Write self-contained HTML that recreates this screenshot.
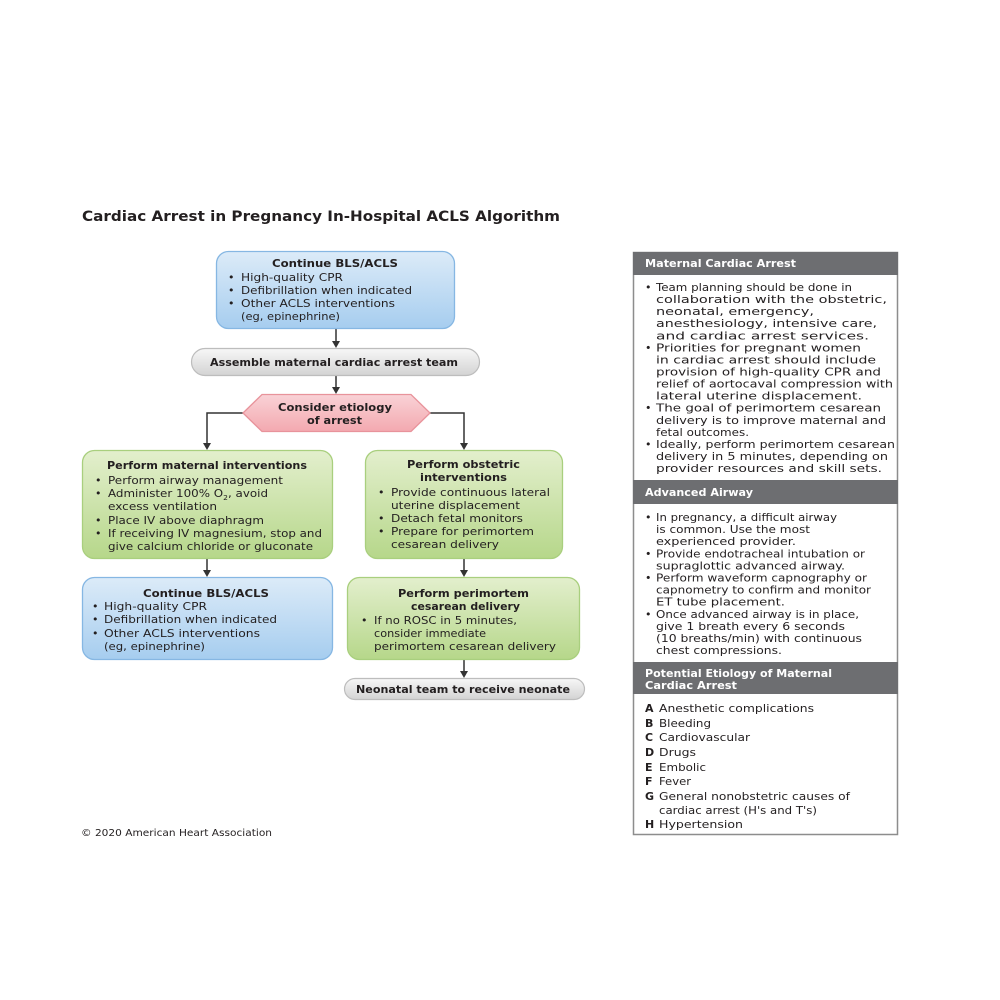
<!DOCTYPE html>
<html>
<head>
<meta charset="utf-8">
<style>
  html,body{margin:0;padding:0;background:#fff;}
  svg{display:block;}
  text{font-family:"DejaVu Sans","Liberation Sans",Arial,sans-serif;fill:#231f20;}
  .t{font-size:11px;}
  .b{font-size:11px;font-weight:bold;}
  .w{font-size:11px;font-weight:bold;fill:#fff;}
</style>
</head>
<body>
<svg width="1000" height="1000" viewBox="0 0 1000 1000" xmlns="http://www.w3.org/2000/svg">
  <defs>
    <linearGradient id="gBlue" x1="0" y1="0" x2="0" y2="1">
      <stop offset="0" stop-color="#dcebf8"/>
      <stop offset="1" stop-color="#a6cdef"/>
    </linearGradient>
    <linearGradient id="gGreen" x1="0" y1="0" x2="0" y2="1">
      <stop offset="0" stop-color="#e3efcd"/>
      <stop offset="1" stop-color="#b6d78a"/>
    </linearGradient>
    <linearGradient id="gGray" x1="0" y1="0" x2="0" y2="1">
      <stop offset="0" stop-color="#f7f7f7"/>
      <stop offset="1" stop-color="#d3d3d3"/>
    </linearGradient>
    <linearGradient id="gPink" x1="0" y1="0" x2="0" y2="1">
      <stop offset="0" stop-color="#f9d2d6"/>
      <stop offset="1" stop-color="#f3a9b0"/>
    </linearGradient>
  </defs>

  <!-- Title -->
  <text x="82" y="221" style="font-size:14px;font-weight:bold;" textLength="478" lengthAdjust="spacingAndGlyphs">Cardiac Arrest in Pregnancy In-Hospital ACLS Algorithm</text>

  <!-- Connectors -->
  <g stroke="#333" stroke-width="1.5" fill="none">
    <line x1="336" y1="329" x2="336" y2="342"/>
    <line x1="336" y1="376" x2="336" y2="388"/>
    <polyline points="243,413 207,413 207,444"/>
    <polyline points="430,413 464,413 464,444"/>
    <line x1="207" y1="559" x2="207" y2="571"/>
    <line x1="464" y1="559" x2="464" y2="571"/>
    <line x1="464" y1="660" x2="464" y2="672"/>
  </g>
  <g fill="#333">
    <polygon points="332,341 340,341 336,348"/>
    <polygon points="332,387 340,387 336,394"/>
    <polygon points="203,443 211,443 207,450"/>
    <polygon points="460,443 468,443 464,450"/>
    <polygon points="203,570 211,570 207,577"/>
    <polygon points="460,570 468,570 464,577"/>
    <polygon points="460,671 468,671 464,678"/>
  </g>

  <g lengthAdjust="spacingAndGlyphs">
  <!-- Top blue box -->
  <rect x="216.5" y="251.5" width="238" height="77" rx="12" fill="url(#gBlue)" stroke="#86b7e3" stroke-width="1.3"/>
  <text class="b" x="272" y="267" textLength="126" lengthAdjust="spacingAndGlyphs">Continue BLS/ACLS</text>
  <text class="t" x="228" y="281">•</text>
  <text class="t" x="228" y="294">•</text>
  <text class="t" x="228" y="307">•</text>
  <text class="t" x="241" y="281" textLength="102" lengthAdjust="spacingAndGlyphs">High-quality CPR</text>
  <text class="t" x="241" y="294" textLength="171" lengthAdjust="spacingAndGlyphs">Defibrillation when indicated</text>
  <text class="t" x="241" y="307" textLength="154" lengthAdjust="spacingAndGlyphs">Other ACLS interventions</text>
  <text class="t" x="241" y="320" textLength="99" lengthAdjust="spacingAndGlyphs">(eg, epinephrine)</text>

  <!-- Assemble pill -->
  <rect x="191.5" y="348.5" width="288" height="27" rx="13.5" fill="url(#gGray)" stroke="#bdbdbd" stroke-width="1.2"/>
  <text class="b" x="210" y="366" textLength="248" lengthAdjust="spacingAndGlyphs">Assemble maternal cardiac arrest team</text>

  <!-- Hexagon -->
  <polygon points="243,413 262,394.5 411,394.5 430,413 411,431.5 262,431.5" fill="url(#gPink)" stroke="#e8939b" stroke-width="1.3"/>
  <text class="b" x="278" y="411" textLength="114" lengthAdjust="spacingAndGlyphs">Consider etiology</text>
  <text class="b" x="307" y="424" textLength="55" lengthAdjust="spacingAndGlyphs">of arrest</text>

  <!-- Left green box -->
  <rect x="82.5" y="450.5" width="250" height="108" rx="12" fill="url(#gGreen)" stroke="#a9cf7e" stroke-width="1.3"/>
  <text class="b" x="107" y="469" textLength="200" lengthAdjust="spacingAndGlyphs">Perform maternal interventions</text>
  <text class="t" x="95" y="484">•</text>
  <text class="t" x="95" y="497">•</text>
  <text class="t" x="95" y="524">•</text>
  <text class="t" x="95" y="537">•</text>
  <text class="t" x="108" y="484" textLength="175" lengthAdjust="spacingAndGlyphs">Perform airway management</text>
  <text class="t" x="108" y="497" textLength="160" lengthAdjust="spacingAndGlyphs">Administer 100% O<tspan style="font-size:7px" dy="3">2</tspan><tspan dy="-3">, avoid</tspan></text>
  <text class="t" x="108" y="510" textLength="109" lengthAdjust="spacingAndGlyphs">excess ventilation</text>
  <text class="t" x="108" y="524" textLength="156" lengthAdjust="spacingAndGlyphs">Place IV above diaphragm</text>
  <text class="t" x="108" y="537" textLength="214" lengthAdjust="spacingAndGlyphs">If receiving IV magnesium, stop and</text>
  <text class="t" x="108" y="550" textLength="205" lengthAdjust="spacingAndGlyphs">give calcium chloride or gluconate</text>

  <!-- Right green box -->
  <rect x="365.5" y="450.5" width="197" height="108" rx="12" fill="url(#gGreen)" stroke="#a9cf7e" stroke-width="1.3"/>
  <text class="b" x="407" y="468" textLength="113" lengthAdjust="spacingAndGlyphs">Perform obstetric</text>
  <text class="b" x="420" y="481" textLength="87" lengthAdjust="spacingAndGlyphs">interventions</text>
  <text class="t" x="378" y="496">•</text>
  <text class="t" x="378" y="522">•</text>
  <text class="t" x="378" y="535">•</text>
  <text class="t" x="391" y="496" textLength="159" lengthAdjust="spacingAndGlyphs">Provide continuous lateral</text>
  <text class="t" x="391" y="509" textLength="129" lengthAdjust="spacingAndGlyphs">uterine displacement</text>
  <text class="t" x="391" y="522" textLength="132" lengthAdjust="spacingAndGlyphs">Detach fetal monitors</text>
  <text class="t" x="391" y="535" textLength="143" lengthAdjust="spacingAndGlyphs">Prepare for perimortem</text>
  <text class="t" x="391" y="548" textLength="108" lengthAdjust="spacingAndGlyphs">cesarean delivery</text>

  <!-- Left blue box -->
  <rect x="82.5" y="577.5" width="250" height="82" rx="12" fill="url(#gBlue)" stroke="#86b7e3" stroke-width="1.3"/>
  <text class="b" x="143" y="597" textLength="126" lengthAdjust="spacingAndGlyphs">Continue BLS/ACLS</text>
  <text class="t" x="92" y="610">•</text>
  <text class="t" x="92" y="623">•</text>
  <text class="t" x="92" y="637">•</text>
  <text class="t" x="104" y="610" textLength="103" lengthAdjust="spacingAndGlyphs">High-quality CPR</text>
  <text class="t" x="104" y="623" textLength="173" lengthAdjust="spacingAndGlyphs">Defibrillation when indicated</text>
  <text class="t" x="104" y="637" textLength="156" lengthAdjust="spacingAndGlyphs">Other ACLS interventions</text>
  <text class="t" x="104" y="650" textLength="101" lengthAdjust="spacingAndGlyphs">(eg, epinephrine)</text>

  <!-- Right green box 2 -->
  <rect x="347.5" y="577.5" width="232" height="82" rx="12" fill="url(#gGreen)" stroke="#a9cf7e" stroke-width="1.3"/>
  <text class="b" x="398" y="597" textLength="131" lengthAdjust="spacingAndGlyphs">Perform perimortem</text>
  <text class="b" x="411" y="610" textLength="109" lengthAdjust="spacingAndGlyphs">cesarean delivery</text>
  <text class="t" x="361" y="624">•</text>
  <text class="t" x="374" y="624" textLength="143" lengthAdjust="spacingAndGlyphs">If no ROSC in 5 minutes,</text>
  <text class="t" x="374" y="637" textLength="112" lengthAdjust="spacingAndGlyphs">consider immediate</text>
  <text class="t" x="374" y="650" textLength="182" lengthAdjust="spacingAndGlyphs">perimortem cesarean delivery</text>

  <!-- Neonatal pill -->
  <rect x="344.5" y="678.5" width="240" height="21" rx="10.5" fill="url(#gGray)" stroke="#bdbdbd" stroke-width="1.2"/>
  <text class="b" x="356" y="693" textLength="214" lengthAdjust="spacingAndGlyphs">Neonatal team to receive neonate</text>

  <!-- Copyright -->
  <text x="81" y="836" style="font-size:9.5px;" textLength="191" lengthAdjust="spacingAndGlyphs">© 2020 American Heart Association</text>
  </g>

  <!-- Right panel -->
  <rect x="633.5" y="252.5" width="264" height="582" fill="#fff" stroke="#8d8d8d" stroke-width="1.5"/>
  <rect x="633" y="252" width="265" height="23" fill="#6d6e71"/>
  <rect x="633" y="480" width="265" height="24" fill="#6d6e71"/>
  <rect x="633" y="662" width="265" height="32" fill="#6d6e71"/>

  <text class="w" x="645" y="267" textLength="151" lengthAdjust="spacingAndGlyphs">Maternal Cardiac Arrest</text>
  <text class="w" x="645" y="496" textLength="108" lengthAdjust="spacingAndGlyphs">Advanced Airway</text>
  <text class="w" x="645" y="677" textLength="187" lengthAdjust="spacingAndGlyphs">Potential Etiology of Maternal</text>
  <text class="w" x="645" y="689" textLength="92" lengthAdjust="spacingAndGlyphs">Cardiac Arrest</text>

  <!-- Maternal Cardiac Arrest text -->
  <text class="t" x="645" y="291">•</text>
  <text class="t" x="645" y="351.3">•</text>
  <text class="t" x="645" y="411.7">•</text>
  <text class="t" x="645" y="448">•</text>
  <text class="t" x="656" y="291" textLength="196" lengthAdjust="spacingAndGlyphs">Team planning should be done in</text>
  <text class="t" x="656" y="303.1" textLength="231" lengthAdjust="spacingAndGlyphs">collaboration with the obstetric,</text>
  <text class="t" x="656" y="315.1" textLength="158" lengthAdjust="spacingAndGlyphs">neonatal, emergency,</text>
  <text class="t" x="656" y="327.2" textLength="221" lengthAdjust="spacingAndGlyphs">anesthesiology, intensive care,</text>
  <text class="t" x="656" y="339.3" textLength="213" lengthAdjust="spacingAndGlyphs">and cardiac arrest services.</text>
  <text class="t" x="656" y="351.3" textLength="205" lengthAdjust="spacingAndGlyphs">Priorities for pregnant women</text>
  <text class="t" x="656" y="363.4" textLength="220" lengthAdjust="spacingAndGlyphs">in cardiac arrest should include</text>
  <text class="t" x="656" y="375.5" textLength="225" lengthAdjust="spacingAndGlyphs">provision of high-quality CPR and</text>
  <text class="t" x="656" y="387.6" textLength="237" lengthAdjust="spacingAndGlyphs">relief of aortocaval compression with</text>
  <text class="t" x="656" y="399.6" textLength="206" lengthAdjust="spacingAndGlyphs">lateral uterine displacement.</text>
  <text class="t" x="656" y="411.7" textLength="225" lengthAdjust="spacingAndGlyphs">The goal of perimortem cesarean</text>
  <text class="t" x="656" y="423.8" textLength="230" lengthAdjust="spacingAndGlyphs">delivery is to improve maternal and</text>
  <text class="t" x="656" y="435.8" textLength="93" lengthAdjust="spacingAndGlyphs">fetal outcomes.</text>
  <text class="t" x="656" y="447.9" textLength="239" lengthAdjust="spacingAndGlyphs">Ideally, perform perimortem cesarean</text>
  <text class="t" x="656" y="460" textLength="232" lengthAdjust="spacingAndGlyphs">delivery in 5 minutes, depending on</text>
  <text class="t" x="656" y="472" textLength="226" lengthAdjust="spacingAndGlyphs">provider resources and skill sets.</text>

  <!-- Advanced Airway text -->
  <text class="t" x="645" y="521">•</text>
  <text class="t" x="645" y="557.3">•</text>
  <text class="t" x="645" y="581.5">•</text>
  <text class="t" x="645" y="617.8">•</text>
  <text class="t" x="656" y="521" textLength="181" lengthAdjust="spacingAndGlyphs">In pregnancy, a difficult airway</text>
  <text class="t" x="656" y="533.1" textLength="154" lengthAdjust="spacingAndGlyphs">is common. Use the most</text>
  <text class="t" x="656" y="545.2" textLength="140" lengthAdjust="spacingAndGlyphs">experienced provider.</text>
  <text class="t" x="656" y="557.3" textLength="209" lengthAdjust="spacingAndGlyphs">Provide endotracheal intubation or</text>
  <text class="t" x="656" y="569.4" textLength="189" lengthAdjust="spacingAndGlyphs">supraglottic advanced airway.</text>
  <text class="t" x="656" y="581.5" textLength="211" lengthAdjust="spacingAndGlyphs">Perform waveform capnography or</text>
  <text class="t" x="656" y="593.6" textLength="215" lengthAdjust="spacingAndGlyphs">capnometry to confirm and monitor</text>
  <text class="t" x="656" y="605.7" textLength="129" lengthAdjust="spacingAndGlyphs">ET tube placement.</text>
  <text class="t" x="656" y="617.8" textLength="203" lengthAdjust="spacingAndGlyphs">Once advanced airway is in place,</text>
  <text class="t" x="656" y="629.9" textLength="189" lengthAdjust="spacingAndGlyphs">give 1 breath every 6 seconds</text>
  <text class="t" x="656" y="642" textLength="206" lengthAdjust="spacingAndGlyphs">(10 breaths/min) with continuous</text>
  <text class="t" x="656" y="654" textLength="126" lengthAdjust="spacingAndGlyphs">chest compressions.</text>

  <!-- Etiology list -->
  <text class="b" x="645" y="712">A</text>
  <text class="b" x="645" y="727">B</text>
  <text class="b" x="645" y="741">C</text>
  <text class="b" x="645" y="756">D</text>
  <text class="b" x="645" y="771">E</text>
  <text class="b" x="645" y="785">F</text>
  <text class="b" x="645" y="800">G</text>
  <text class="b" x="645" y="828">H</text>
  <text class="t" x="659" y="712" textLength="155" lengthAdjust="spacingAndGlyphs">Anesthetic complications</text>
  <text class="t" x="659" y="727" textLength="52" lengthAdjust="spacingAndGlyphs">Bleeding</text>
  <text class="t" x="659" y="741" textLength="91" lengthAdjust="spacingAndGlyphs">Cardiovascular</text>
  <text class="t" x="659" y="756" textLength="37" lengthAdjust="spacingAndGlyphs">Drugs</text>
  <text class="t" x="659" y="771" textLength="47" lengthAdjust="spacingAndGlyphs">Embolic</text>
  <text class="t" x="659" y="785" textLength="32" lengthAdjust="spacingAndGlyphs">Fever</text>
  <text class="t" x="659" y="800" textLength="191" lengthAdjust="spacingAndGlyphs">General nonobstetric causes of</text>
  <text class="t" x="659" y="814" textLength="158" lengthAdjust="spacingAndGlyphs">cardiac arrest (H's and T's)</text>
  <text class="t" x="659" y="828" textLength="84" lengthAdjust="spacingAndGlyphs">Hypertension</text>
</svg>
</body>
</html>
